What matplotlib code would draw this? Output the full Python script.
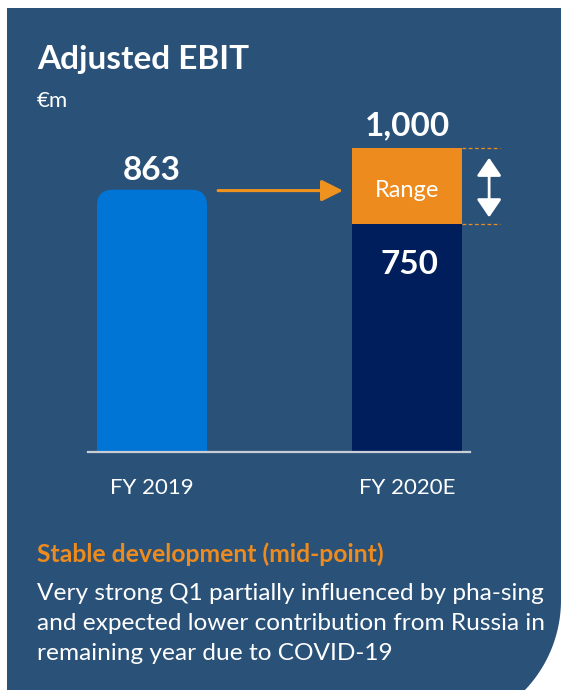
import matplotlib
matplotlib.use('Agg')
import matplotlib.pyplot as plt
import numpy as np
from matplotlib.patches import Polygon, FancyBboxPatch, Rectangle

# data
categories = ['FY 2019', 'FY 2020E']
base_values = [863, 750]
range_top = 1000
value_labels = ['863', '750']
top_label = '1,000'
title = 'Adjusted EBIT'
unit = '€m'
headline = 'Stable development (mid-point)'
body = ['Very strong Q1 partially influenced by pha-sing',
        'and expected lower contribution from Russia in',
        'remaining year due to COVID-19']

BG = '#2a5279'
BLUE = '#0075d5'
NAVY = '#001e5c'
ORANGE = '#ee8b1e'
W, H = 561, 690

plt.rcParams['font.family'] = ['Lato', 'DejaVu Sans']
fig = plt.figure(figsize=(W / 100, H / 100), dpi=100)
fig.patch.set_facecolor('white')

# background panel, pixel coordinates
bg = fig.add_axes([0, 0, 1, 1], zorder=0)
bg.set_xlim(0, W)
bg.set_ylim(H, 0)
bg.axis('off')
R = 130.5
cx, cy = W - R, 600
t = np.linspace(0, np.arccos((525 - cx) / R), 40)
arc = [(cx + R * np.cos(a), cy + R * np.sin(a)) for a in t]
pts = [(7, 8), (W, 8)] + arc + [(7, H)]
bg.add_patch(Polygon(pts, closed=True, facecolor=BG, edgecolor='none'))

bg.text(37, 60, title, color='white', fontsize=24, fontweight='bold',
        ha='left', va='center')
bg.text(37, 101, unit, color='white', fontsize=16, ha='left', va='center')
bg.text(37, 554, headline, color=ORANGE, fontsize=17.8, fontweight='bold',
        ha='left', va='center')
for i, line in enumerate(body):
    bg.text(37, 593 + 30 * i, line, color='white', fontsize=17.6,
            ha='left', va='center')

# bar axes
ax = fig.add_axes([88 / W, (H - 452) / H, 382 / W, 352 / H], zorder=1)
ax.patch.set_alpha(0)
ax.set_xlim(-0.251, 1.247)
ax.set_ylim(0, 1158)
x = np.arange(len(categories))
bw = 110 / 255

bars = ax.bar(x, base_values, width=bw, color=[BLUE, NAVY], zorder=2)
# rounded top for FY 2019
b0 = bars[0]
b0.set_visible(False)
ppx = 255  # px per x unit
ppy = 352 / 1158  # px per y unit
r = 16 / ppx
aspect = (1 / ppy) / (1 / ppx)
ax.add_patch(FancyBboxPatch((b0.get_x(), 0), bw, base_values[0],
                            boxstyle=f'round,pad=0,rounding_size={r}',
                            mutation_aspect=aspect, facecolor=BLUE,
                            edgecolor='none', zorder=2))
ax.add_patch(Rectangle((b0.get_x(), 0), bw, base_values[0] / 2,
                       facecolor=BLUE, edgecolor='none', zorder=2))
ax.bar(x[1], range_top - base_values[1], bottom=base_values[1], width=bw,
       color=ORANGE, zorder=2)

for s in ['top', 'right', 'left']:
    ax.spines[s].set_visible(False)
ax.spines['bottom'].set_color('#c9ced6')
ax.spines['bottom'].set_linewidth(1.6)
ax.set_yticks([])
ax.set_xticks(x, categories)
ax.tick_params(axis='x', length=0, pad=19, labelsize=16, labelcolor='white')

ax.annotate(value_labels[0], (x[0], base_values[0]), xytext=(0, 14),
            textcoords='offset points', ha='center', va='center',
            color='white', fontsize=24, fontweight='bold')
ax.annotate(top_label, (x[1], range_top), xytext=(0, 16),
            textcoords='offset points', ha='center', va='center',
            color='white', fontsize=24, fontweight='bold')
ax.annotate(value_labels[1], (x[1], base_values[1]), xytext=(2, -29),
            textcoords='offset points', ha='center', va='center',
            color='white', fontsize=24, fontweight='bold')
ax.annotate('Range', (x[1], (base_values[1] + range_top) / 2), xytext=(0, -3),
            textcoords='offset points', color='white', fontsize=17,
            ha='center', va='center', zorder=3)

# arrow between bars
ax.annotate('', xy=(0.749, base_values[0] - 3), xytext=(0.259, base_values[0] - 3),
            arrowprops=dict(arrowstyle='-|>,head_length=1.3,head_width=0.65',
                            color='#f0921e', lw=2.2, shrinkA=0, shrinkB=0))

# range markers
xr = x[1] + bw / 2
for yv in [range_top, base_values[1]]:
    ax.plot([xr, 1.365], [yv, yv], color=ORANGE, lw=0.9, ls=(0, (3, 2)),
            clip_on=False, zorder=3)
ax.annotate('', xy=(1.322, 968), xytext=(1.322, 772),
            arrowprops=dict(arrowstyle='<|-|>,head_length=1.1,head_width=0.75',
                            color='white', lw=2, shrinkA=0, shrinkB=0),
            annotation_clip=False)

fig.savefig('out.png', dpi=100)
